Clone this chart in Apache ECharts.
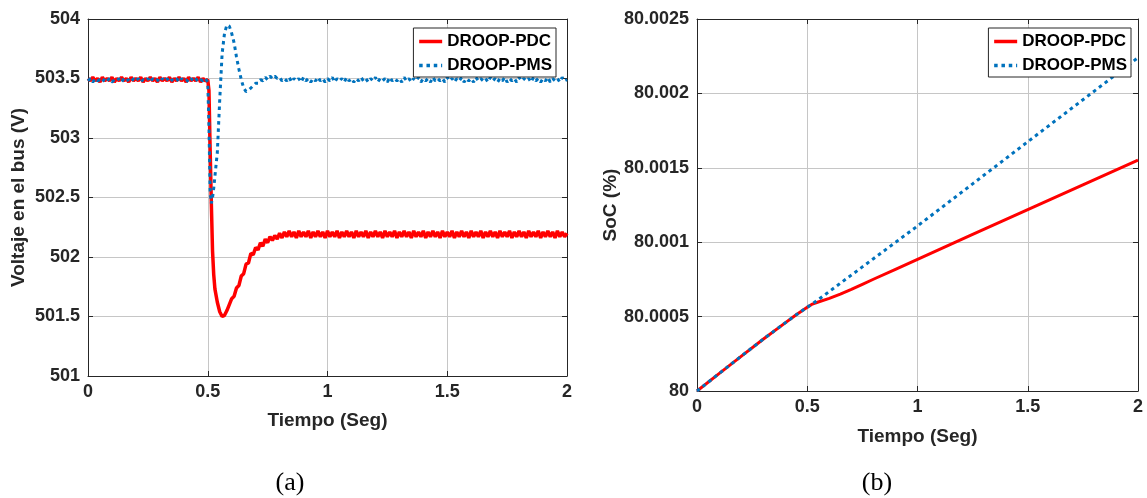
<!DOCTYPE html>
<html>
<head>
<meta charset="utf-8">
<script src="https://cdn.jsdelivr.net/npm/echarts@6/dist/echarts.min.js"></script>
<style>
  html, body { margin: 0; padding: 0; background: #fff; }
  #chart { width: 1147px; height: 498px; }
</style>
</head>
<body>
<div id="chart"></div>
<script>
// Bus voltage (V) – time samples (s) shared by both controllers
const tBus = [
  0,0.01,0.02,0.03,0.04,0.05,0.06,0.07,0.08,0.09,
  0.1,0.11,0.12,0.13,0.14,0.15,0.16,0.17,0.18,0.19,
  0.2,0.21,0.22,0.23,0.24,0.25,0.26,0.27,0.28,0.29,
  0.3,0.31,0.32,0.33,0.34,0.35,0.36,0.37,0.38,0.39,
  0.4,0.41,0.42,0.43,0.44,0.45,0.46,0.47,0.48,0.49,
  0.5,0.505,0.51,0.515,0.52,0.525,0.53,
  0.54,0.55,0.56,0.57,0.58,0.59,0.6,
  0.61,0.62,0.63,0.64,0.65,0.66,0.67,0.68,0.69,0.7,
  0.71,0.72,0.73,0.74,0.75,0.76,0.77,0.78,0.79,0.8,
  0.81,0.82,0.83,0.84,0.85,0.86,0.87,0.88,0.89,0.9,
  0.91,0.92,0.93,0.94,0.95,0.96,0.97,0.98,0.99,1,
  1.01,1.02,1.03,1.04,1.05,1.06,1.07,1.08,1.09,1.1,
  1.11,1.12,1.13,1.14,1.15,1.16,1.17,1.18,1.19,1.2,
  1.21,1.22,1.23,1.24,1.25,1.26,1.27,1.28,1.29,1.3,
  1.31,1.32,1.33,1.34,1.35,1.36,1.37,1.38,1.39,1.4,
  1.41,1.42,1.43,1.44,1.45,1.46,1.47,1.48,1.49,1.5,
  1.51,1.52,1.53,1.54,1.55,1.56,1.57,1.58,1.59,1.6,
  1.61,1.62,1.63,1.64,1.65,1.66,1.67,1.68,1.69,1.7,
  1.71,1.72,1.73,1.74,1.75,1.76,1.77,1.78,1.79,1.8,
  1.81,1.82,1.83,1.84,1.85,1.86,1.87,1.88,1.89,1.9,
  1.91,1.92,1.93,1.94,1.95,1.96,1.97,1.98,1.99,2
];
const vBusPDC = [
  503.5,503.48,503.51,503.48,503.5,503.47,503.51,503.48,503.5,503.48,
  503.51,503.47,503.5,503.48,503.51,503.48,503.5,503.47,503.51,503.48,
  503.5,503.48,503.51,503.47,503.5,503.48,503.51,503.48,503.5,503.47,
  503.51,503.48,503.5,503.48,503.51,503.47,503.5,503.48,503.51,503.48,
  503.5,503.47,503.51,503.48,503.5,503.48,503.51,503.47,503.5,503.48,
  503.49,503.4,502.9,502.45,502.05,501.85,501.73,
  501.62,501.54,501.5,501.51,501.55,501.6,501.65,
  501.67,501.74,501.76,501.84,501.86,501.94,501.95,502.03,502.02,502.08,
  502.06,502.12,502.09,502.15,502.12,502.17,502.14,502.18,502.15,502.2,
  502.16,502.21,502.17,502.22,502.17,502.21,502.16,502.22,502.17,502.21,
  502.17,502.22,502.16,502.21,502.17,502.22,502.17,502.21,502.16,502.22,
  502.17,502.21,502.17,502.22,502.16,502.21,502.17,502.22,502.17,502.21,
  502.16,502.22,502.17,502.21,502.17,502.22,502.16,502.21,502.17,502.22,
  502.17,502.21,502.16,502.22,502.17,502.21,502.17,502.22,502.16,502.21,
  502.17,502.22,502.17,502.21,502.16,502.22,502.17,502.21,502.17,502.22,
  502.16,502.21,502.17,502.22,502.17,502.21,502.16,502.22,502.17,502.21,
  502.17,502.22,502.16,502.21,502.17,502.22,502.17,502.21,502.16,502.22,
  502.17,502.21,502.17,502.22,502.16,502.21,502.17,502.22,502.17,502.21,
  502.16,502.22,502.17,502.21,502.17,502.22,502.16,502.21,502.17,502.22,
  502.17,502.21,502.16,502.22,502.17,502.21,502.17,502.22,502.16,502.21,
  502.17,502.22,502.17,502.21,502.16,502.22,502.17,502.21,502.17,502.2
];
const vBusPMS = [
  503.48,503.5,503.47,503.5,503.48,503.49,503.47,503.5,503.48,503.5,
  503.47,503.49,503.48,503.5,503.47,503.5,503.48,503.49,503.47,503.5,
  503.48,503.5,503.47,503.49,503.48,503.5,503.47,503.5,503.48,503.49,
  503.47,503.5,503.48,503.5,503.47,503.49,503.48,503.5,503.47,503.5,
  503.48,503.49,503.47,503.5,503.48,503.5,503.47,503.49,503.48,503.5,
  503.47,503.1,502.55,502.45,502.5,502.58,502.68,
  502.88,503.32,503.71,503.88,503.95,503.94,503.88,
  503.8,503.68,503.58,503.49,503.42,503.39,503.4,503.42,503.44,503.46,
  503.46,503.49,503.48,503.51,503.49,503.52,503.5,503.52,503.5,503.51,
  503.48,503.5,503.48,503.51,503.47,503.5,503.48,503.5,503.47,503.51,
  503.48,503.5,503.47,503.5,503.48,503.51,503.48,503.5,503.47,503.5,
  503.48,503.51,503.47,503.5,503.48,503.5,503.47,503.51,503.48,503.5,
  503.47,503.5,503.48,503.51,503.48,503.5,503.47,503.5,503.48,503.51,
  503.47,503.5,503.48,503.5,503.47,503.51,503.48,503.5,503.48,503.5,
  503.47,503.51,503.48,503.5,503.47,503.5,503.48,503.51,503.47,503.5,
  503.48,503.5,503.47,503.51,503.48,503.5,503.48,503.5,503.47,503.51,
  503.48,503.5,503.47,503.5,503.48,503.51,503.47,503.5,503.48,503.5,
  503.47,503.51,503.48,503.5,503.48,503.5,503.47,503.51,503.48,503.5,
  503.47,503.5,503.48,503.51,503.47,503.5,503.48,503.5,503.47,503.51,
  503.48,503.5,503.48,503.5,503.47,503.51,503.48,503.5,503.47,503.5,
  503.48,503.51,503.47,503.5,503.48,503.5,503.47,503.51,503.48,503.49
];

// State of charge (%) – time samples (s) shared by both controllers
const tSoc = [0,0.1,0.2,0.3,0.4,0.45,0.5,0.52,0.55,0.6,0.65,0.7,0.75,0.8,0.9,1,1.25,1.5,1.75,2];
const socPDC = [80,80.000117,80.000233,80.000348,80.000458,80.000512,80.000563,80.000582,80.000598,80.000622,80.000651,80.000683,80.000717,80.000751,80.000818,80.000885,80.001052,80.001219,80.001385,80.001552];
const socPMS = [80,80.000117,80.000233,80.000348,80.000458,80.000512,80.000563,80.000582,80.000614,80.000669,80.000724,80.000779,80.000834,80.000889,80.000999,80.001109,80.001392,80.001675,80.001957,80.00224];

const seriesNames = ['DROOP-PDC', 'DROOP-PMS'];
const timeTicks = { min: 0, max: 2, interval: 0.5 };
const busTicks = { min: 501, max: 504, interval: 0.5 };
const socTicks = { min: 80, max: 80.0025, interval: 0.0005 };

const RED = '#FF0000';
const BLUE = '#0072BD';
const AXIS = '#262626';
const GRID = '#c6c6c6';
const SANS = '"Liberation Sans", Arial, Helvetica, sans-serif';

const tickText = { fontFamily: SANS, fontWeight: 'bold', fontSize: 18, color: AXIS };
const nameText = { fontFamily: SANS, fontWeight: 'bold', fontSize: 19, color: AXIS };

const zip = (xs, ys) => xs.map((x, i) => [x, ys[i]]);
const socFmt = v => String(parseFloat(v.toFixed(4)));

function mainX(grid, gap) {
  return {
    type: 'value', gridIndex: grid, ...timeTicks, position: 'bottom',
    name: 'Tiempo (Seg)', nameLocation: 'middle', nameGap: gap, nameTextStyle: nameText,
    axisLine: { show: true, onZero: false, lineStyle: { color: AXIS, width: 1 } },
    axisTick: { show: true, inside: true, length: 5, lineStyle: { color: AXIS } },
    axisLabel: { ...tickText, margin: 7 },
    splitLine: { show: true, lineStyle: { color: GRID, width: 1 } }
  };
}
function frameX(grid) {
  return {
    type: 'value', gridIndex: grid, ...timeTicks, position: 'top',
    axisLine: { show: true, onZero: false, lineStyle: { color: AXIS, width: 1 } },
    axisTick: { show: true, inside: true, length: 5, lineStyle: { color: AXIS } },
    axisLabel: { show: false }, splitLine: { show: false }
  };
}
function mainY(grid, ticks, name, gap, fmt) {
  return {
    type: 'value', gridIndex: grid, ...ticks, position: 'left',
    name: name, nameLocation: 'middle', nameGap: gap, nameTextStyle: nameText,
    axisLine: { show: true, onZero: false, lineStyle: { color: AXIS, width: 1 } },
    axisTick: { show: true, inside: true, length: 5, lineStyle: { color: AXIS } },
    axisLabel: { ...tickText, margin: 8, formatter: fmt },
    splitLine: { show: true, lineStyle: { color: GRID, width: 1 } }
  };
}
function frameY(grid, ticks) {
  return {
    type: 'value', gridIndex: grid, ...ticks, position: 'right',
    axisLine: { show: true, onZero: false, lineStyle: { color: AXIS, width: 1 } },
    axisTick: { show: true, inside: true, length: 5, lineStyle: { color: AXIS } },
    axisLabel: { show: false }, splitLine: { show: false }
  };
}
function legendAt(right) {
  return {
    orient: 'vertical', right: right, top: 28,
    data: seriesNames,
    backgroundColor: '#fff', borderColor: AXIS, borderWidth: 1,
    padding: [5, 4, 3, 4], itemGap: 7, itemWidth: 23, itemHeight: 14,
    itemStyle: { opacity: 0 },
    lineStyle: { width: 3.5 },
    textStyle: { fontFamily: SANS, fontWeight: 'bold', fontSize: 17, color: '#000' },
    selectedMode: false
  };
}
function line(name, xi, yi, data, color, width, dashed) {
  return {
    type: 'line', name: name, xAxisIndex: xi, yAxisIndex: yi, data: data,
    showSymbol: false, symbol: 'none', animation: false,
    lineStyle: { color: color, width: width, type: dashed ? [3.5, 3.8] : 'solid', cap: 'butt' },
    itemStyle: { color: color }
  };
}

const chart = echarts.init(document.getElementById('chart'), null, { renderer: 'canvas' });
chart.setOption({
  backgroundColor: '#fff',
  animation: false,
  grid: [
    { left: 88, top: 19, width: 479, height: 357 },
    { left: 697, top: 19, width: 441, height: 372 }
  ],
  xAxis: [mainX(0, 35), frameX(0), mainX(1, 36), frameX(1)],
  yAxis: [
    mainY(0, busTicks, 'Voltaje en el bus (V)', 60, null),
    frameY(0, busTicks),
    mainY(1, socTicks, 'SoC (%)', 57, socFmt),
    frameY(1, socTicks)
  ],
  legend: [legendAt(591), legendAt(16)],
  series: [
    line(seriesNames[0], 0, 0, zip(tBus, vBusPDC), RED, 3.5, false),
    line(seriesNames[1], 0, 0, zip(tBus, vBusPMS), BLUE, 3, true),
    line(seriesNames[0], 2, 2, zip(tSoc, socPDC), RED, 3, false),
    line(seriesNames[1], 2, 2, zip(tSoc, socPMS), BLUE, 3, true)
  ],
  graphic: [
    { type: 'text', x: 290, y: 483, style: { text: '(a)', font: '26px "Liberation Serif", serif', fill: '#000', align: 'center', verticalAlign: 'middle' } },
    { type: 'text', x: 877, y: 483, style: { text: '(b)', font: '26px "Liberation Serif", serif', fill: '#000', align: 'center', verticalAlign: 'middle' } }
  ]
});
</script>
</body>
</html>
